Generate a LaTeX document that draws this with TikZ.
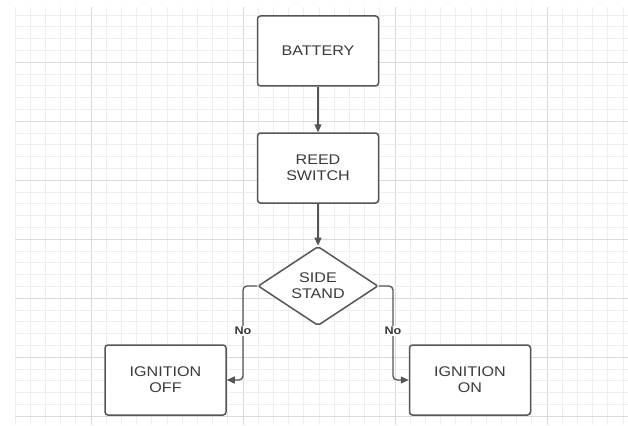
\documentclass[tikz,border=0pt]{standalone}
\usepackage{fontspec}
\setmainfont{Liberation Sans}
\newfontfamily\labfont[FakeStretch=1.15]{Liberation Sans}
\usetikzlibrary{arrows.meta,shapes.geometric}
\definecolor{minorgrid}{HTML}{EEEEEE}
\definecolor{majorgrid}{HTML}{DADADA}
\definecolor{edge}{HTML}{555555}
\definecolor{txt}{HTML}{3A3A3A}
\tikzset{
  procbox/.style={draw=edge, line width=1.5pt, rounded corners=3pt, fill=white,
    minimum width=121pt, minimum height=70pt, inner sep=0pt, align=center,
    font=\labfont\fontsize{14}{16}\selectfont, text=txt},
  decbox/.style={draw=edge, line width=1.5pt, diamond, rounded corners=2pt, fill=white,
    minimum width=120pt, minimum height=68pt, inner sep=0pt, align=center,
    font=\labfont\fontsize{14}{16}\selectfont, text=txt},
  flow/.style={draw=edge, line width=1.3pt, -{Triangle[length=8pt,width=7pt]}},
  elbowflow/.style={flow, rounded corners=4pt},
  nolabel/.style={fill=white, inner sep=1pt, font=\labfont\bfseries\fontsize{11}{12}\selectfont, text=txt}
}
\begin{document}
\begin{tikzpicture}[x=1pt,y=-1pt]
\useasboundingbox (0,0) rectangle (628,425);
\fill[white] (0,0) rectangle (628,425);
% grid
\begin{scope}
\clip (15,7) rectangle (628,425);
\foreach \i in {0,...,40} {
  \pgfmathsetmacro{\xx}{15+15.2*\i}
  \pgfmathtruncatemacro{\mm}{mod(\i,10)}
  \ifnum\mm=5
    \draw[majorgrid, line width=0.9pt] (\xx,7) -- (\xx,425);
  \else
    \draw[minorgrid, line width=0.8pt] (\xx,7) -- (\xx,425);
  \fi
}
\foreach \j in {0,...,35} {
  \pgfmathsetmacro{\yy}{15+11.8*\j}
  \pgfmathtruncatemacro{\mm}{mod(\j,5)}
  \ifnum\mm=4
    \draw[majorgrid, line width=0.9pt] (15,\yy) -- (628,\yy);
  \else
    \draw[minorgrid, line width=0.8pt] (15,\yy) -- (628,\yy);
  \fi
}
\end{scope}
% nodes
\node[procbox] (bat) at (318,51) {BATTERY};
\node[procbox] (reed) at (318,168) {REED\\SWITCH};
\node[decbox] (side) at (318,286) {SIDE\\STAND};
\node[procbox] (off) at (165.5,380) {IGNITION\\OFF};
\node[procbox] (on) at (470,380) {IGNITION\\ON};
% connectors
\draw[flow] (bat.south) -- (reed.north);
\draw[flow] (reed.south) -- (side.north);
\draw[elbowflow] (side.west) -- (243,286) -- (243,380) -- (off.east);
\draw[elbowflow] (side.east) -- (393,286) -- (393,380) -- (on.west);
\node[nolabel] (noleft) at (243,331) {No};
\node[nolabel] (noright) at (393,331) {No};
\end{tikzpicture}
\end{document}
